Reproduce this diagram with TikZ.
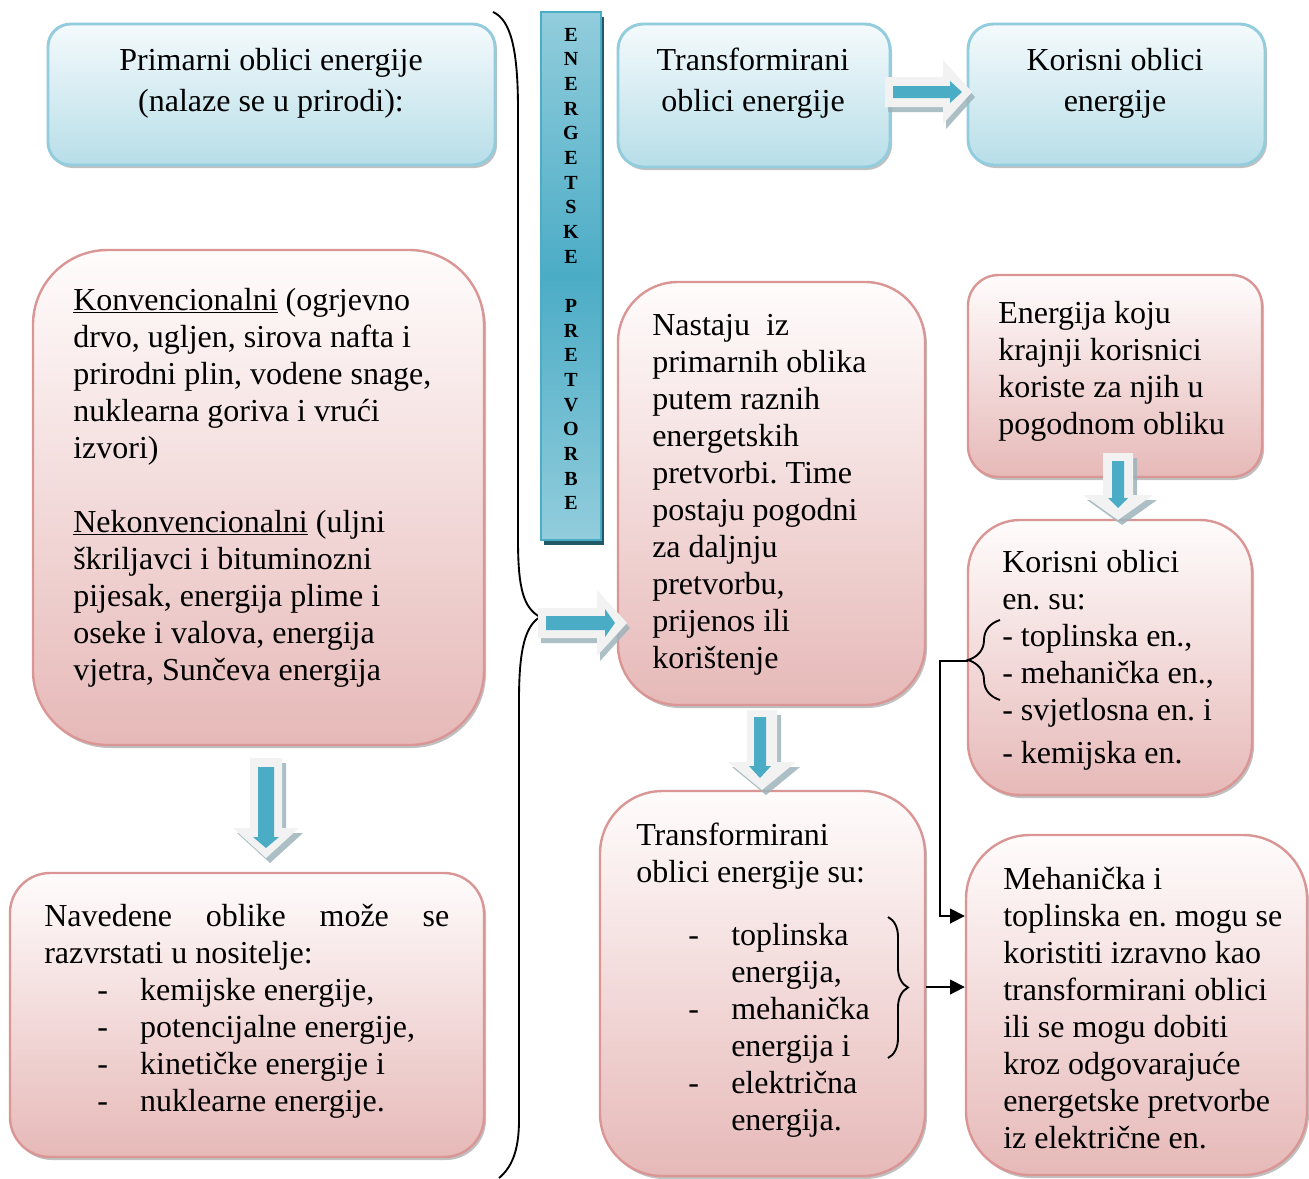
\documentclass[tikz,border=0pt]{standalone}
\usepackage{fontspec}
\setmainfont{Liberation Serif}
\usetikzlibrary{fit,shadows,arrows.meta,decorations.pathreplacing}
\definecolor{bluebord}{HTML}{93CDDD}
\definecolor{bluebot}{HTML}{B7DEE8}
\definecolor{bluetop}{HTML}{F4FAFC}
\definecolor{pinkbord}{HTML}{D99694}
\definecolor{pinkbot}{HTML}{E6B9B8}
\definecolor{pinktop}{HTML}{FFFCFC}
\definecolor{barmid}{HTML}{4BACC6}
\definecolor{bartop}{HTML}{92CDDC}
\definecolor{bardark}{HTML}{215968}
\definecolor{arrowfill}{HTML}{F2F2F2}
\definecolor{shadowc}{HTML}{9DB4BB}
\frenchspacing
\newcommand\bodyfont{\fontsize{24pt}{27.75pt}\selectfont\frenchspacing}
\newcommand\lblk[1]{\begin{minipage}[t]{330pt}\bodyfont\raggedright #1\end{minipage}}
\newcommand\cblk[1]{\begin{minipage}[t]{330pt}\bodyfont\centering #1\end{minipage}}
\newcommand\dashitem[2]{\hspace*{#1}\makebox[32.25pt][l]{-}#2}
\begin{document}
\begin{tikzpicture}[x=0.75pt,y=-0.75pt,
  boxshadow/.style={drop shadow={shadow xshift=1.5pt,shadow yshift=-2.25pt,fill=gray!70,opacity=0.7}},
  bluebox/.style={draw=bluebord,line width=2.2pt,top color=bluetop,bottom color=bluebot,inner sep=0pt,boxshadow},
  pinkbox/.style={draw=pinkbord,line width=1.8pt,top color=pinktop,bottom color=pinkbot,inner sep=0pt,boxshadow},
  barbox/.style={draw=barmid,line width=1.5pt,top color=bartop,bottom color=bartop,middle color=barmid,inner sep=0pt,
     drop shadow={shadow xshift=2.25pt,shadow yshift=-3.75pt,fill=bardark,opacity=1}},
  txt/.style={anchor=base west,inner sep=0pt},
  ctxt/.style={anchor=base,inner sep=0pt},
  conn/.style={line width=1.3pt,-{Triangle[length=11pt,width=11pt]}},
  bracel/.style={line width=1.4pt},
  arrout/.style={fill=arrowfill},
  arrin/.style={fill=barmid},
  arrsh/.style={fill=shadowc,opacity=0.85}]
\useasboundingbox (0,0) rectangle (1309,1178);
\clip (0,0) rectangle (1309,1178);
\fill[white] (0,0) rectangle (1309,1178);

% boxes
\node[bluebox,rounded corners=17pt,fit={(48,24)(495,165)}] (prim) {};
\node[bluebox,rounded corners=19pt,fit={(618,24)(890,167)}] (trans) {};
\node[bluebox,rounded corners=19pt,fit={(968,24)(1265,165)}] (kor) {};
\node[barbox,fit={(541,12)(601,540)}] (bar) {};
\node[pinkbox,rounded corners=56pt,fit={(33,250)(484,745)}] (konv) {};
\node[pinkbox,rounded corners=30pt,fit={(10,873)(484,1157)}] (nav) {};
\node[pinkbox,rounded corners=45pt,fit={(618,282)(925,705)}] (nast) {};
\node[pinkbox,rounded corners=23pt,fit={(968,275)(1262,477)}] (enk) {};
\node[pinkbox,rounded corners=39pt,fit={(968,520)(1252,795)}] (kos) {};
\node[pinkbox,rounded corners=47pt,fit={(600,791)(925,1176)}] (tsu) {};
\node[pinkbox,rounded corners=48pt,fit={(966,835)(1307,1175)}] (meh) {};

% texts
\node[ctxt] (tprim) at (271,70) {\cblk{Primarni oblici energije\\[3pt](nalaze se u prirodi):}};
\node[ctxt] (ttrans) at (753,70) {\cblk{Transformirani\\[3pt]oblici energije}};
\node[ctxt] (tkor) at (1115,70) {\cblk{Korisni oblici\\[3pt]energije}};
\node[ctxt] (tbar) at (571,41) {\begin{minipage}[t]{30pt}\centering\fontsize{15pt}{18.5pt}\selectfont\bfseries
E\\N\\E\\R\\G\\E\\T\\S\\K\\E\\\mbox{}\\P\\R\\E\\T\\V\\O\\R\\B\\E\end{minipage}};
\node[txt] (tkonv) at (73,310) {\lblk{\underline{Konvencionalni} (ogrjevno\\
drvo, ugljen, sirova nafta i\\
prirodni plin, vodene snage,\\
nuklearna goriva i vrući\\
izvori)\\
\mbox{}\\
\underline{Nekonvencionalni} (uljni\\
škriljavci i bituminozni\\
pijesak, energija plime i\\
oseke i valova, energija\\
vjetra, Sunčeva energija}};
\node[txt] (tnav) at (44,926) {\lblk{\makebox[303.75pt][s]{Navedene oblike može se}\\
razvrstati u nositelje:\\
\dashitem{39.75pt}{kemijske energije,}\\
\dashitem{39.75pt}{potencijalne energije,}\\
\dashitem{39.75pt}{kinetičke energije i}\\
\dashitem{39.75pt}{nuklearne energije.}}};
\node[txt] (tnast) at (652,335) {\lblk{Nastaju~ iz\\
primarnih oblika\\
putem raznih\\
energetskih\\
pretvorbi. Time\\
postaju pogodni\\
za daljnju\\
pretvorbu,\\
prijenos ili\\
korištenje}};
\node[txt] (tenk) at (998,323) {\lblk{Energija koju\\
krajnji korisnici\\
koriste za njih u\\
pogodnom obliku}};
\node[txt] (tkos) at (1002,572) {\lblk{Korisni oblici\\
en. su:\\
- toplinska en.,\\
- mehanička en.,\\
- svjetlosna en. i\\[4.5pt]
- kemijska en.}};
\node[txt] (ttsu) at (636,845) {\lblk{Transformirani\\
oblici energije su:\\[19.5pt]
\dashitem{39pt}{toplinska}\\
\hspace*{71.25pt}energija,\\
\dashitem{39pt}{mehanička}\\
\hspace*{71.25pt}energija i\\
\dashitem{39pt}{električna}\\
\hspace*{71.25pt}energija.}};
\node[txt] (tmeh) at (1003,889) {\lblk{Mehanička i\\
toplinska en. mogu se\\
koristiti izravno kao\\
transformirani oblici\\
ili se mogu dobiti\\
kroz odgovarajuće\\
energetske pretvorbe\\
iz električne en.}};

% big brace
\coordinate (bbtop) at (493,12);
\coordinate (bbtip) at (540,617);
\coordinate (bbbot) at (499,1178);
\draw[bracel] (bbtop) .. controls (511,20) and (518,50) .. (518,110) -- (518,540)
  .. controls (518,590) and (524,608) .. (bbtip)
  .. controls (525,626) and (519,650) .. (519,700) -- (519,1120)
  .. controls (519,1152) and (511,1168) .. (bbbot);

% small braces
\draw[bracel,decorate,decoration={brace,amplitude=24pt}] (1000,700) -- (1000,620);
\coordinate (b9tip) at (968,661);
\draw[bracel,decorate,decoration={brace,amplitude=15pt}] (888,917) -- (888,1058);
\coordinate (b10tip) at (908,987);
\coordinate (m11a) at (0,916);

% connectors
\draw[conn] (b9tip) -- ++(-28,0) |- (meh.west |- m11a);
\draw[conn] (tsu.east |- b10tip) -- (meh.west |- b10tip);

% block arrows: right 1
\fill[arrsh,shift={(3,5)}] (885,77) -- (943,77) -- (943,60) -- (972,92) -- (943,124) -- (943,107) -- (885,107) -- cycle;
\fill[arrout] (885,77) -- (943,77) -- (943,60) -- (972,92) -- (943,124) -- (943,107) -- (885,107) -- cycle;
\fill[arrin] (893,86) -- (950,86) -- (950,81) -- (962,92) -- (950,103) -- (950,98) -- (893,98) -- cycle;
% right 2
\fill[arrsh,shift={(3,5)}] (538,608) -- (597,608) -- (597,590) -- (627,623) -- (597,656) -- (597,638) -- (538,638) -- cycle;
\fill[arrout] (538,608) -- (597,608) -- (597,590) -- (627,623) -- (597,656) -- (597,638) -- (538,638) -- cycle;
\fill[arrin] (546,616) -- (605,616) -- (605,609) -- (615,623) -- (605,637) -- (605,630) -- (546,630) -- cycle;
% down 1
\fill[arrsh,shift={(4,5)}] (250,758) -- (250,828) -- (233,828) -- (266,858) -- (299,828) -- (282,828) -- (282,758) -- cycle;
\fill[arrout] (250,758) -- (250,828) -- (233,828) -- (266,858) -- (299,828) -- (282,828) -- (282,758) -- cycle;
\fill[arrin] (258,767) -- (258,837) -- (253,837) -- (266,848) -- (279,837) -- (274,837) -- (274,767) -- cycle;
% down 2
\fill[arrsh,shift={(4,5)}] (1103,453) -- (1103,495) -- (1083,495) -- (1118,520) -- (1153,495) -- (1133,495) -- (1133,453) -- cycle;
\fill[arrout] (1103,453) -- (1103,495) -- (1083,495) -- (1118,520) -- (1153,495) -- (1133,495) -- (1133,453) -- cycle;
\fill[arrin] (1112,461) -- (1112,498) -- (1108,498) -- (1118,508) -- (1128,498) -- (1124,498) -- (1124,461) -- cycle;
% down 3
\fill[arrsh,shift={(4,5)}] (747,710) -- (747,762) -- (728,762) -- (762,790) -- (796,762) -- (777,762) -- (777,710) -- cycle;
\fill[arrout] (747,710) -- (747,762) -- (728,762) -- (762,790) -- (796,762) -- (777,762) -- (777,710) -- cycle;
\fill[arrin] (754,717) -- (754,766) -- (749,766) -- (760,778) -- (771,766) -- (766,766) -- (766,717) -- cycle;
\end{tikzpicture}
\end{document}
